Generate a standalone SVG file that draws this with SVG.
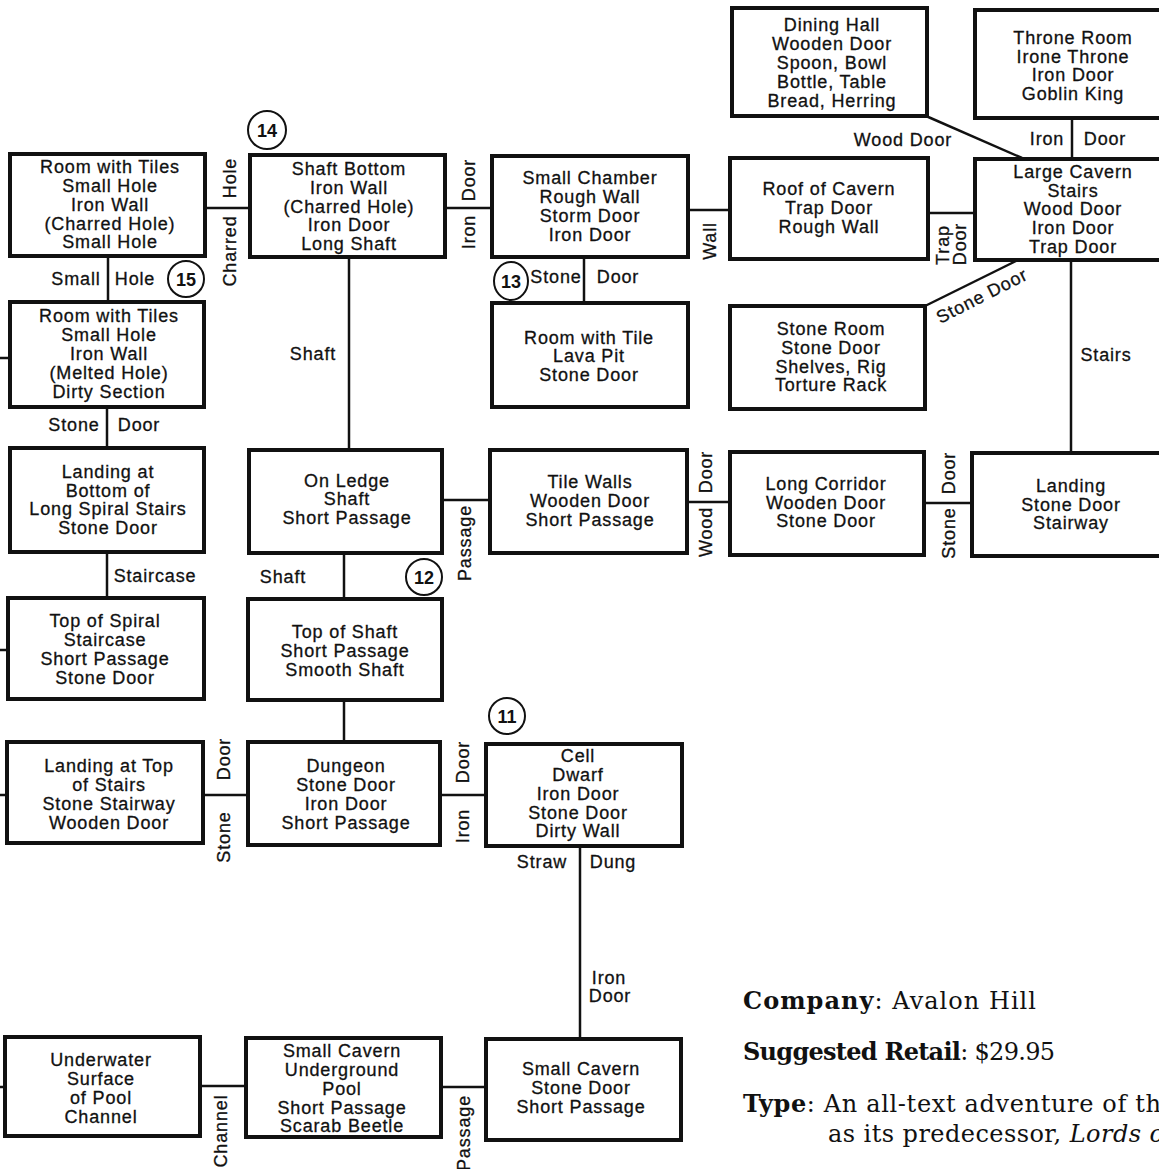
<svg xmlns="http://www.w3.org/2000/svg" width="1159" height="1169" viewBox="0 0 1159 1169">
<style>
.box{fill:#fff;stroke:#111;stroke-width:4}
.ln{stroke:#111;stroke-width:2.5;fill:none}
.cir{fill:#fff;stroke:#111;stroke-width:2}
.t{font-family:"Liberation Sans",Arial,sans-serif;font-size:18px;letter-spacing:0.85px;text-anchor:middle;fill:#111;stroke:#111;stroke-width:0.3}
.l{font-family:"Liberation Sans",Arial,sans-serif;font-size:18px;letter-spacing:0.85px;text-anchor:middle;dominant-baseline:central;fill:#111;stroke:#111;stroke-width:0.3}
.n{font-family:"Liberation Sans",Arial,sans-serif;font-size:18px;font-weight:bold;text-anchor:middle;dominant-baseline:central;fill:#111}
.s{font-family:"DejaVu Serif","Liberation Serif",serif;font-size:24px;fill:#111}
.b{font-weight:bold}
</style>
<rect width="1159" height="1169" fill="#fff"/>
<g id="connectors">
<line class="ln" x1="205" y1="208" x2="250" y2="208"/>
<line class="ln" x1="108" y1="256" x2="108" y2="301"/>
<line class="ln" x1="445" y1="208" x2="492" y2="208"/>
<line class="ln" x1="349" y1="257" x2="349" y2="449"/>
<line class="ln" x1="688" y1="210" x2="730" y2="210"/>
<line class="ln" x1="928" y1="213" x2="975" y2="213"/>
<line class="ln" x1="926" y1="116" x2="1022" y2="158"/>
<line class="ln" x1="1072" y1="118" x2="1072" y2="158"/>
<line class="ln" x1="1016" y1="261" x2="925" y2="306"/>
<line class="ln" x1="1071" y1="260" x2="1071" y2="453"/>
<line class="ln" x1="584" y1="257" x2="584" y2="302"/>
<line class="ln" x1="107" y1="407" x2="107" y2="447"/>
<line class="ln" x1="107" y1="552" x2="107" y2="598"/>
<line class="ln" x1="344" y1="553" x2="344" y2="599"/>
<line class="ln" x1="442" y1="500" x2="490" y2="500"/>
<line class="ln" x1="687" y1="502" x2="730" y2="502"/>
<line class="ln" x1="924" y1="503" x2="972" y2="503"/>
<line class="ln" x1="344" y1="700" x2="344" y2="742"/>
<line class="ln" x1="203" y1="795" x2="248" y2="795"/>
<line class="ln" x1="440" y1="795" x2="486" y2="795"/>
<line class="ln" x1="580" y1="846" x2="580" y2="1039"/>
<line class="ln" x1="200" y1="1086" x2="246" y2="1086"/>
<line class="ln" x1="441" y1="1087" x2="486" y2="1087"/>
<line class="ln" x1="0" y1="358" x2="10" y2="358"/>
<line class="ln" x1="0" y1="650" x2="8" y2="650"/>
<line class="ln" x1="0" y1="795" x2="7" y2="795"/>
<line class="ln" x1="0" y1="1087" x2="5" y2="1087"/>
</g>
<g id="connector-labels">
<text class="l" transform="translate(230,178) rotate(-90)">Hole</text>
<text class="l" transform="translate(230,251) rotate(-90)">Charred</text>
<text class="l" x="76" y="279">Small</text>
<text class="l" x="135" y="279">Hole</text>
<text class="l" transform="translate(469,180) rotate(-90)">Door</text>
<text class="l" transform="translate(469,232) rotate(-90)">Iron</text>
<text class="l" x="313" y="354">Shaft</text>
<text class="l" transform="translate(710,241) rotate(-90)">Wall</text>
<text class="l" transform="translate(943,245) rotate(-90)">Trap</text>
<text class="l" transform="translate(960,244) rotate(-90)">Door</text>
<text class="l" x="903" y="140">Wood Door</text>
<text class="l" x="1047" y="139">Iron</text>
<text class="l" x="1105" y="139">Door</text>
<text class="l" transform="translate(982,296) rotate(-27)">Stone Door</text>
<text class="l" x="1106" y="355">Stairs</text>
<text class="l" x="556" y="277">Stone</text>
<text class="l" x="618" y="277">Door</text>
<text class="l" x="74" y="425">Stone</text>
<text class="l" x="139" y="425">Door</text>
<text class="l" x="155" y="576">Staircase</text>
<text class="l" x="283" y="577">Shaft</text>
<text class="l" transform="translate(465,543) rotate(-90)">Passage</text>
<text class="l" transform="translate(706,472) rotate(-90)">Door</text>
<text class="l" transform="translate(706,532) rotate(-90)">Wood</text>
<text class="l" transform="translate(949,473) rotate(-90)">Door</text>
<text class="l" transform="translate(949,533) rotate(-90)">Stone</text>
<text class="l" transform="translate(224,759) rotate(-90)">Door</text>
<text class="l" transform="translate(224,837) rotate(-90)">Stone</text>
<text class="l" transform="translate(463,762) rotate(-90)">Door</text>
<text class="l" transform="translate(463,826) rotate(-90)">Iron</text>
<text class="l" x="542" y="862">Straw</text>
<text class="l" x="613" y="862">Dung</text>
<text class="l" x="609" y="978">Iron</text>
<text class="l" x="610" y="996">Door</text>
<text class="l" transform="translate(221,1131) rotate(-90)">Channel</text>
<text class="l" transform="translate(464,1133) rotate(-90)">Passage</text>
</g>
<g id="markers">
<g id="m14"><circle class="cir" cx="267" cy="130" r="19"/><text class="n" x="267" y="131">14</text></g>
<g id="m15"><circle class="cir" cx="186" cy="279" r="18"/><text class="n" x="186" y="280">15</text></g>
<g id="m13"><ellipse class="cir" cx="511" cy="281" rx="17" ry="19"/><text class="n" x="511" y="282">13</text></g>
<g id="m12"><circle class="cir" cx="424" cy="577" r="18"/><text class="n" x="424" y="578">12</text></g>
<g id="m11"><circle class="cir" cx="507" cy="716" r="18"/><text class="n" x="507" y="717">11</text></g>
</g>
<g id="dining-hall"><rect class="box" x="732" y="8" width="195" height="108"/>
<text class="t" x="832" y="31">Dining Hall</text><text class="t" x="832" y="50">Wooden Door</text><text class="t" x="832" y="69">Spoon, Bowl</text><text class="t" x="832" y="88">Bottle, Table</text><text class="t" x="832" y="107">Bread, Herring</text></g>
<g id="throne-room"><rect class="box" x="975" y="10" width="210" height="108"/>
<text class="t" x="1073" y="44">Throne Room</text><text class="t" x="1073" y="63">Irone Throne</text><text class="t" x="1073" y="81">Iron Door</text><text class="t" x="1073" y="100">Goblin King</text></g>
<g id="room-tiles-1"><rect class="box" x="10" y="154" width="195" height="102"/>
<text class="t" x="110" y="173">Room with Tiles</text><text class="t" x="110" y="192">Small Hole</text><text class="t" x="110" y="211">Iron Wall</text><text class="t" x="110" y="230">(Charred Hole)</text><text class="t" x="110" y="248">Small Hole</text></g>
<g id="shaft-bottom"><rect class="box" x="250" y="155" width="195" height="102"/>
<text class="t" x="349" y="175">Shaft Bottom</text><text class="t" x="349" y="194">Iron Wall</text><text class="t" x="349" y="213">(Charred Hole)</text><text class="t" x="349" y="231">Iron Door</text><text class="t" x="349" y="250">Long Shaft</text></g>
<g id="small-chamber"><rect class="box" x="492" y="156" width="196" height="101"/>
<text class="t" x="590" y="184">Small Chamber</text><text class="t" x="590" y="203">Rough Wall</text><text class="t" x="590" y="222">Storm Door</text><text class="t" x="590" y="241">Iron Door</text></g>
<g id="roof-of-cavern"><rect class="box" x="730" y="158" width="198" height="101"/>
<text class="t" x="829" y="195">Roof of Cavern</text><text class="t" x="829" y="214">Trap Door</text><text class="t" x="829" y="233">Rough Wall</text></g>
<g id="large-cavern"><rect class="box" x="975" y="159" width="210" height="101"/>
<text class="t" x="1073" y="178">Large Cavern</text><text class="t" x="1073" y="197">Stairs</text><text class="t" x="1073" y="215">Wood Door</text><text class="t" x="1073" y="234">Iron Door</text><text class="t" x="1073" y="253">Trap Door</text></g>
<g id="room-tiles-2"><rect class="box" x="10" y="302" width="194" height="105"/>
<text class="t" x="109" y="322">Room with Tiles</text><text class="t" x="109" y="341">Small Hole</text><text class="t" x="109" y="360">Iron Wall</text><text class="t" x="109" y="379">(Melted Hole)</text><text class="t" x="109" y="398">Dirty Section</text></g>
<g id="room-lava"><rect class="box" x="492" y="303" width="196" height="104"/>
<text class="t" x="589" y="344">Room with Tile</text><text class="t" x="589" y="362">Lava Pit</text><text class="t" x="589" y="381">Stone Door</text></g>
<g id="stone-room"><rect class="box" x="730" y="306" width="195" height="103"/>
<text class="t" x="831" y="335">Stone Room</text><text class="t" x="831" y="354">Stone Door</text><text class="t" x="831" y="373">Shelves, Rig</text><text class="t" x="831" y="391">Torture Rack</text></g>
<g id="landing-bottom"><rect class="box" x="10" y="448" width="194" height="104"/>
<text class="t" x="108" y="478">Landing at</text><text class="t" x="108" y="497">Bottom of</text><text class="t" x="108" y="515">Long Spiral Stairs</text><text class="t" x="108" y="534">Stone Door</text></g>
<g id="on-ledge"><rect class="box" x="249" y="450" width="193" height="103"/>
<text class="t" x="347" y="487">On Ledge</text><text class="t" x="347" y="505">Shaft</text><text class="t" x="347" y="524">Short Passage</text></g>
<g id="tile-walls"><rect class="box" x="490" y="450" width="197" height="103"/>
<text class="t" x="590" y="488">Tile Walls</text><text class="t" x="590" y="507">Wooden Door</text><text class="t" x="590" y="526">Short Passage</text></g>
<g id="long-corridor"><rect class="box" x="730" y="452" width="194" height="103"/>
<text class="t" x="826" y="490">Long Corridor</text><text class="t" x="826" y="509">Wooden Door</text><text class="t" x="826" y="527">Stone Door</text></g>
<g id="landing"><rect class="box" x="972" y="453" width="210" height="103"/>
<text class="t" x="1071" y="492">Landing</text><text class="t" x="1071" y="511">Stone Door</text><text class="t" x="1071" y="529">Stairway</text></g>
<g id="top-spiral"><rect class="box" x="8" y="598" width="196" height="101"/>
<text class="t" x="105" y="627">Top of Spiral</text><text class="t" x="105" y="646">Staircase</text><text class="t" x="105" y="665">Short Passage</text><text class="t" x="105" y="684">Stone Door</text></g>
<g id="top-shaft"><rect class="box" x="248" y="599" width="194" height="101"/>
<text class="t" x="345" y="638">Top of Shaft</text><text class="t" x="345" y="657">Short Passage</text><text class="t" x="345" y="676">Smooth Shaft</text></g>
<g id="landing-top"><rect class="box" x="7" y="742" width="196" height="101"/>
<text class="t" x="109" y="772">Landing at Top</text><text class="t" x="109" y="791">of Stairs</text><text class="t" x="109" y="810">Stone Stairway</text><text class="t" x="109" y="829">Wooden Door</text></g>
<g id="dungeon"><rect class="box" x="248" y="742" width="192" height="103"/>
<text class="t" x="346" y="772">Dungeon</text><text class="t" x="346" y="791">Stone Door</text><text class="t" x="346" y="810">Iron Door</text><text class="t" x="346" y="829">Short Passage</text></g>
<g id="cell"><rect class="box" x="486" y="744" width="196" height="102"/>
<text class="t" x="578" y="762">Cell</text><text class="t" x="578" y="781">Dwarf</text><text class="t" x="578" y="800">Iron Door</text><text class="t" x="578" y="819">Stone Door</text><text class="t" x="578" y="837">Dirty Wall</text></g>
<g id="underwater"><rect class="box" x="5" y="1037" width="195" height="99"/>
<text class="t" x="101" y="1066">Underwater</text><text class="t" x="101" y="1085">Surface</text><text class="t" x="101" y="1104">of Pool</text><text class="t" x="101" y="1123">Channel</text></g>
<g id="small-cavern-pool"><rect class="box" x="246" y="1038" width="195" height="99"/>
<text class="t" x="342" y="1057">Small Cavern</text><text class="t" x="342" y="1076">Underground</text><text class="t" x="342" y="1095">Pool</text><text class="t" x="342" y="1114">Short Passage</text><text class="t" x="342" y="1132">Scarab Beetle</text></g>
<g id="small-cavern"><rect class="box" x="486" y="1039" width="195" height="101"/>
<text class="t" x="581" y="1075">Small Cavern</text><text class="t" x="581" y="1094">Stone Door</text><text class="t" x="581" y="1113">Short Passage</text></g>
<g id="info">
<text class="s" x="743" y="1009" textLength="293" lengthAdjust="spacing"><tspan class="b">Company</tspan>: Avalon Hill</text>
<text class="s" x="743" y="1060" textLength="312" lengthAdjust="spacing"><tspan class="b">Suggested Retail</tspan>: $29.95</text>
<text class="s" x="743" y="1112" textLength="418" lengthAdjust="spacing"><tspan class="b">Type</tspan>: An all-text adventure of th</text>
<text class="s" x="828" y="1142" textLength="336" lengthAdjust="spacing">as its predecessor, <tspan font-style="italic">Lords o</tspan></text>
</g>
</svg>
